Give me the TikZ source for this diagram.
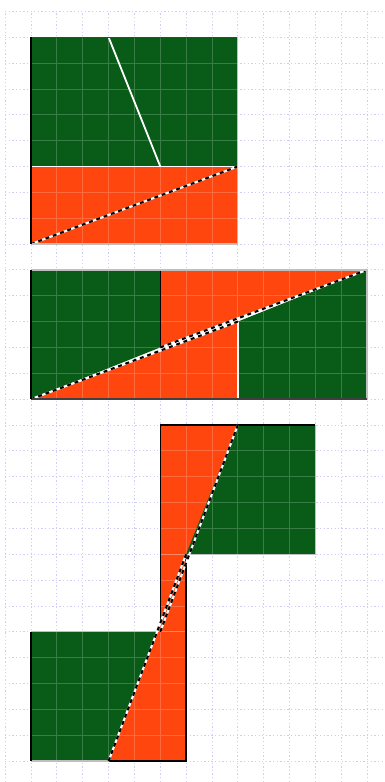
\documentclass[tikz,border=0pt]{standalone}
\usepackage{tikz}
\usetikzlibrary{calc}
\definecolor{leaf}{RGB}{8,92,24}
\definecolor{flame}{RGB}{255,70,14}
\definecolor{lavender}{RGB}{205,205,245}
\def\cutline(#1)(#2){\draw[line width=0.8mm, white] (#1) -- (#2); \draw[line width=0.8mm, black, dash pattern=on 1.5mm off 1.5mm] (#1) -- (#2);}
\tikzset{
	cellgrid/.style={white, opacity=0.2, line width=0.3mm},
	rim/.style={line width=0.5mm, color=black!75},
	softrim/.style={line width=0.5mm, color=black!25}
}

\begin{document}
\begin{tikzpicture}
		%%%%% START %%%%%
		\useasboundingbox (-1.2, -0.81) rectangle (13.69, 29.44);
		
		\draw[lavender, line width=0.3mm, dash pattern=on 0.5mm off 0.9mm] (-1, -0.81) grid (13.69, 29);
		
		% 8 x 8
		\fill[leaf] (0, 23) rectangle (8, 28);
		\fill[flame] (0, 20) rectangle (8, 23);
		\draw[cellgrid] (0, 20) grid (8, 28);
		\draw[line width=0.7mm, white] (3, 28) -- (5, 23);
		\draw[line width=0.7mm, white] (0, 23) -- (8, 23);
		\cutline(0, 20)(8, 23)
		\draw[rim] (0, 28) -- (8, 28);
		\draw[softrim] (8, 28) -- (8, 20) -- (0, 20);
		\draw[line width=0.6mm, color=black] (0, 20) -- (0, 28);
		
		% 13 x 5
		\fill[leaf] (0, 14) -- (0, 19) -- (5, 19) -- (5, 16) -- cycle;
		\fill[flame] (5, 16) -- (5, 19) -- (13, 19) -- cycle;
		\fill[flame] (0, 14) -- (8, 14) -- (8, 17) -- cycle;
		\fill[leaf] (8, 14) -- (13, 14) -- (13, 19) -- (8, 17) -- cycle;
		\draw[cellgrid] (0, 14) grid (13, 19);
		\draw[line width=0.6mm, color=black] (5, 16) -- (5, 19);
		\draw[line width=0.6mm, white] (8, 14) -- (8, 17);
		\cutline(0, 14)(8, 17)
		\cutline(5, 16)(13, 19)
		\draw[softrim] (0, 19) -- (13, 19) -- (13, 14);
		\draw[rim] (0, 14) -- (13, 14);
		\draw[line width=0.6mm, color=black] (0, 14) -- (0, 19);
		
		% pieces moved apart
		\fill[leaf] (0, 0) -- (3, 0) -- (5, 5) -- (0, 5) -- cycle;
		\fill[flame] (3, 0) -- (6, 0) -- (6, 8) -- cycle;
		\fill[flame] (5, 5) -- (5, 13) -- (8, 13) -- cycle;
		\fill[leaf] (6, 8) -- (11, 8) -- (11, 13) -- (8, 13) -- cycle;
		\draw[cellgrid] (0, 0) grid (6, 5);
		\draw[cellgrid] (5, 5) grid (6, 8);
		\draw[cellgrid] (5, 8) grid (11, 13);
		\draw[line width=0.6mm, color=black] (5, 5.3) -- (5, 13) -- (11, 13);
		\draw[line width=0.6mm, color=black] (3, 0) -- (6, 0) -- (6, 8);
		\draw[softrim] (11, 13) -- (11, 8) -- (6, 8);
		\draw[softrim] (0, 5) -- (5, 5);
		\draw[softrim] (0, 0) -- (3, 0);
		\draw[line width=0.6mm, color=black] (0, 0) -- (0, 5);
		\cutline(3, 0)(6, 8)
		\cutline(5, 5)(8, 13)
		
		%%%%% END %%%%%
	\end{tikzpicture}
\end{document}
